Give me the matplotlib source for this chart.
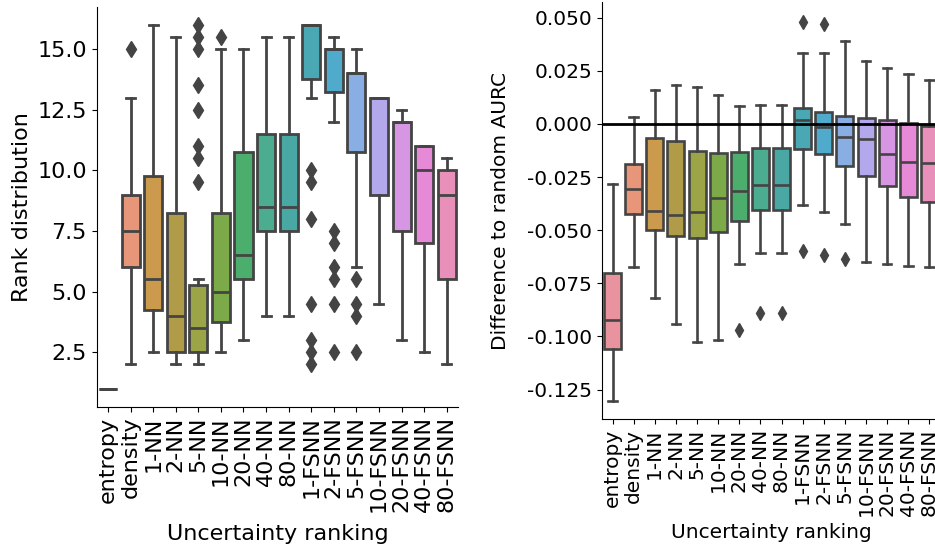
import matplotlib
matplotlib.use("Agg")
import matplotlib.pyplot as plt

categories = ["entropy", "density", "1-NN", "2-NN", "5-NN", "10-NN", "20-NN", "40-NN", "80-NN",
              "1-FSNN", "2-FSNN", "5-FSNN", "10-FSNN", "20-FSNN", "40-FSNN", "80-FSNN"]

# Left panel: rank distribution
rank_whislo = [1.0, 2.0, 2.5, 2.0, 2.0, 2.5, 3.0, 4.0, 4.0, 13.0, 12.0, 6.0, 4.5, 3.0, 2.5, 2.0]
rank_q1     = [1.0, 6.0, 4.25, 2.5, 2.5, 3.75, 5.5, 7.5, 7.5, 13.75, 13.25, 10.75, 9.0, 7.5, 7.0, 5.5]
rank_med    = [1.0, 7.5, 5.5, 4.0, 3.5, 5.0, 6.5, 8.5, 8.5, 16.0, 15.0, 14.0, 13.0, 12.0, 10.0, 9.0]
rank_q3     = [1.0, 9.0, 9.75, 8.25, 5.25, 8.25, 10.75, 11.5, 11.5, 16.0, 15.0, 14.0, 13.0, 12.0, 11.0, 10.0]
rank_whishi = [1.0, 13.0, 16.0, 15.5, 5.5, 15.0, 15.0, 15.5, 15.5, 16.0, 15.5, 15.0, 13.0, 12.5, 11.0, 10.5]
rank_fliers = [[], [15.0], [], [], [16.0, 15.5, 15.0, 13.5, 12.5, 11.0, 10.5, 9.5], [15.5], [], [], [],
               [10.0, 9.5, 8.0, 4.5, 3.0, 2.5, 2.0], [7.5, 7.0, 6.0, 5.5, 4.5, 2.5],
               [5.5, 4.5, 4.0, 2.5], [], [], [], []]

# Right panel: difference to random AURC
aurc_whislo = [-0.1303, -0.0675, -0.0820, -0.0941, -0.1025, -0.1019, -0.0658, -0.0609, -0.0609,
               -0.0381, -0.0413, -0.0472, -0.0650, -0.0659, -0.0669, -0.0673]
aurc_q1     = [-0.1058, -0.0422, -0.0498, -0.0528, -0.0539, -0.0511, -0.0456, -0.0406, -0.0406,
               -0.0120, -0.0141, -0.0198, -0.0244, -0.0294, -0.0344, -0.0369]
aurc_med    = [-0.0925, -0.0305, -0.0409, -0.0431, -0.0414, -0.0348, -0.0316, -0.0286, -0.0286,
               0.0016, -0.0014, -0.0063, -0.0070, -0.0142, -0.0178, -0.0183]
aurc_q3     = [-0.0703, -0.0191, -0.0066, -0.0081, -0.0128, -0.0138, -0.0131, -0.0113, -0.0113,
               0.0073, 0.0055, 0.0036, 0.0027, 0.0019, 0.0003, -0.0009]
aurc_whishi = [-0.0281, 0.0034, 0.0159, 0.0181, 0.0172, 0.0136, 0.0086, 0.0087, 0.0087,
               0.0334, 0.0334, 0.0392, 0.0295, 0.0264, 0.0234, 0.0208]
aurc_fliers = [[], [], [], [], [], [], [-0.0972], [-0.0889], [-0.0889],
               [0.0478, -0.0600], [0.0469, -0.0617], [-0.0638], [], [], [], []]

box_colors = ["#E8939D", "#E8967A", "#CC9A4C", "#B09C48", "#9CA448", "#7CAA48", "#4CAE6C", "#4CAC90",
              "#4AA8A4", "#4AA8B4", "#50AACC", "#88AEE4", "#B4A8EC", "#D696E4", "#E68AD8", "#E890BA"]
gray = "#444444"

W, H = 935, 546
fig = plt.figure(figsize=(W / 100, H / 100), dpi=100)
ax1 = fig.add_axes([96.7 / W, 1 - 406.7 / H, (458 - 96.7) / W, (406.7 - 6.7) / H])
ax2 = fig.add_axes([602 / W, 1 - 419.3 / H, (940 - 602) / W, (419.3 - 1.7) / H])


def draw(ax, lo, q1, med, q3, hi, fl, lw, ms, fs):
    stats = []
    for i in range(len(categories)):
        stats.append(dict(whislo=lo[i], q1=q1[i], med=med[i], q3=q3[i], whishi=hi[i],
                          fliers=fl[i], label=categories[i]))
    pos = list(range(len(categories)))
    bp = ax.bxp(stats, positions=pos, widths=0.8, patch_artist=True, showfliers=True,
                boxprops=dict(edgecolor=gray, linewidth=lw),
                whiskerprops=dict(color=gray, linewidth=lw),
                capprops=dict(color=gray, linewidth=lw),
                medianprops=dict(color=gray, linewidth=lw),
                flierprops=dict(marker="d", markerfacecolor=gray, markeredgecolor=gray,
                                markersize=ms, linestyle="none"))
    for patch, c in zip(bp["boxes"], box_colors):
        patch.set_facecolor(c)
    ax.set_xlim(-0.5, len(categories) - 0.5)
    ax.set_xticks(pos)
    ax.set_xticklabels(categories, rotation=90, fontsize=fs)
    ax.tick_params(axis="y", labelsize=fs)
    ax.spines["top"].set_visible(False)
    ax.spines["right"].set_visible(False)


draw(ax1, rank_whislo, rank_q1, rank_med, rank_q3, rank_whishi, rank_fliers, 2.0, 8, 16)
ax1.set_ylim(0.25, 16.75)
ax1.set_yticks([2.5, 5.0, 7.5, 10.0, 12.5, 15.0])
ax1.set_ylabel("Rank distribution", fontsize=16)
ax1.set_xlabel("Uncertainty ranking", fontsize=16, labelpad=8)

draw(ax2, aurc_whislo, aurc_q1, aurc_med, aurc_q3, aurc_whishi, aurc_fliers, 1.9, 7.5, 14.5)
ax2.set_ylim(-0.139, 0.0575)
ax2.set_yticks([-0.125, -0.1, -0.075, -0.05, -0.025, 0.0, 0.025, 0.05])
ax2.yaxis.set_major_formatter(matplotlib.ticker.FormatStrFormatter("%.3f"))
ax2.set_ylabel("Difference to random AURC", fontsize=14.5, labelpad=12)
ax2.set_xlabel("Uncertainty ranking", fontsize=14.5, labelpad=5)
ax2.axhline(0, color="black", linewidth=2, zorder=10)

fig.savefig("out.png", dpi=100)
